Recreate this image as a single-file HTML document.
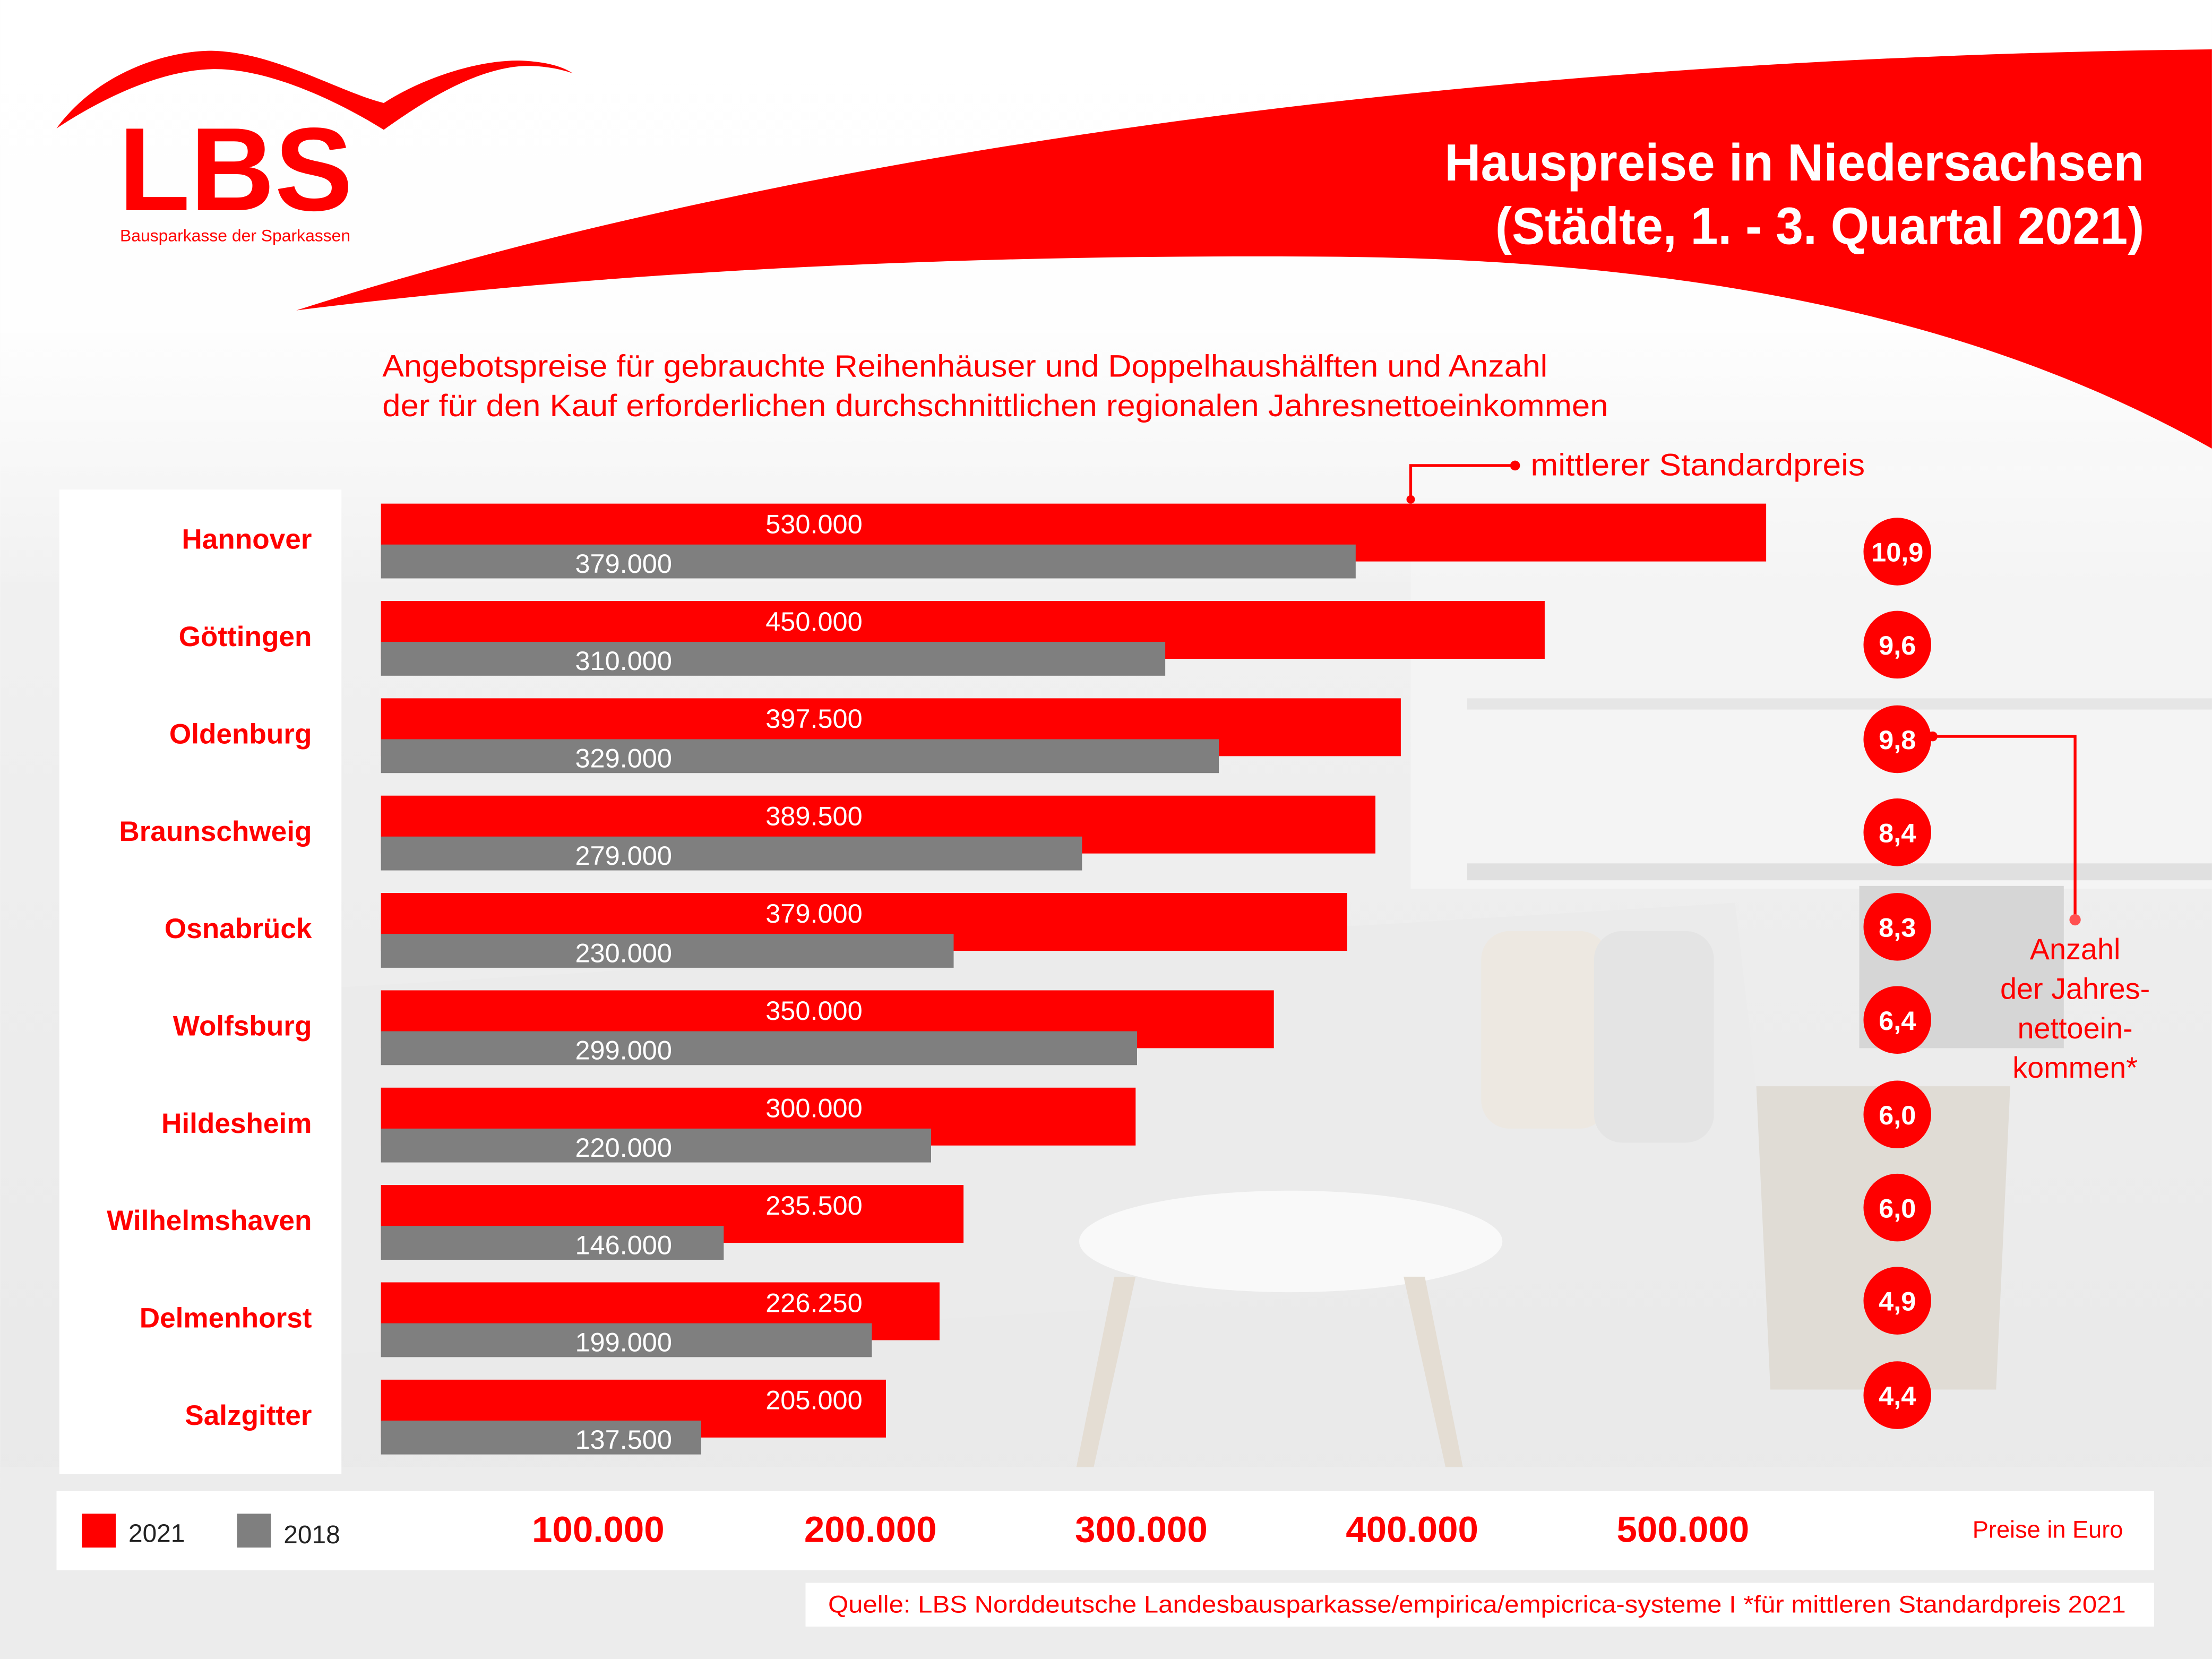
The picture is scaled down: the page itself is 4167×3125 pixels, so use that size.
<!DOCTYPE html>
<html><head><meta charset="utf-8"><style>
html,body{margin:0;padding:0;background:#fff;}
svg{display:block;}
text{font-family:"Liberation Sans",sans-serif;}
</style></head><body>
<svg width="4167" height="3125" viewBox="0 0 1568 1176" xmlns="http://www.w3.org/2000/svg">
<defs>
<linearGradient id="bg" x1="0" y1="0" x2="0" y2="1">
<stop offset="0" stop-color="#f6f6f6"/><stop offset="0.5" stop-color="#eeeeee"/><stop offset="1" stop-color="#e8e8e8"/>
</linearGradient>
<linearGradient id="fade" x1="0" y1="0" x2="0" y2="1">
<stop offset="0" stop-color="#fff" stop-opacity="1"/><stop offset="0.55" stop-color="#fff" stop-opacity="0.9"/><stop offset="1" stop-color="#fff" stop-opacity="0"/>
</linearGradient>
</defs>
<rect width="1568" height="1176" fill="url(#bg)"/>
<!-- faint background shapes -->
<rect x="1000" y="330" width="568" height="300" fill="#f4f4f4"/>
<rect x="1040" y="495" width="528" height="8" fill="#e6e6e6"/>
<rect x="1040" y="612" width="528" height="12" fill="#e0e0e0"/>
<rect x="1318" y="628" width="145" height="115" fill="#d6d6d6"/>
<path d="M240 700 L1230 640 L1260 900 L240 960 Z" fill="#ebebeb"/>
<rect x="1050" y="660" width="90" height="140" rx="20" fill="#ede8e1"/>
<rect x="1130" y="660" width="85" height="150" rx="20" fill="#e4e4e4"/>
<path d="M1245 770 L1425 770 L1415 985 L1255 985 Z" fill="#e0dcd5"/>
<ellipse cx="915" cy="880" rx="150" ry="36" fill="#f9f9f9"/>
<path d="M790 905 L760 1055 L772 1055 L805 905 Z M1010 905 L1040 1055 L1028 1055 L995 905 Z" fill="#e4ddd3"/>
<rect x="0" y="1040" width="1568" height="136" fill="#ececec"/>
<rect x="0" y="0" width="1568" height="420" fill="url(#fade)"/>
<!-- red swoosh -->
<path d="M210 220 C600 95 1100 40 1568 35 L1568 318 C1420 235 1230 185 950 182 C700 180 450 190 210 220 Z" fill="#ff0000"/>
<!-- logo -->
<path d="M40 91 C70 50 120 36 150 36 C195 37 240 65 272 73 C300 55 340 42 370 43 C390 44 400 48 406 52 C395 48 380 46 368 47 C335 50 300 72 272 92 C240 72 190 48 150 49 C115 50 75 68 40 91 Z" fill="#ff0000"/>
<text x="84" y="149" font-size="84" font-weight="bold" fill="#ff0000" textLength="166" lengthAdjust="spacingAndGlyphs">LBS</text>
<text x="85" y="171" font-size="12" fill="#ff0000">Bausparkasse der Sparkassen</text>
<!-- title -->
<text x="1520" y="128" font-size="37" font-weight="bold" fill="#fff" text-anchor="end" textLength="496" lengthAdjust="spacingAndGlyphs">Hauspreise in Niedersachsen</text>
<text x="1520" y="173" font-size="37" font-weight="bold" fill="#fff" text-anchor="end" textLength="460" lengthAdjust="spacingAndGlyphs">(Städte, 1. - 3. Quartal 2021)</text>
<!-- subtitle -->
<text x="271" y="267" font-size="22" fill="#ff0000" textLength="826" lengthAdjust="spacingAndGlyphs">Angebotspreise für gebrauchte Reihenhäuser und Doppelhaushälften und Anzahl</text>
<text x="271" y="295" font-size="22" fill="#ff0000" textLength="869" lengthAdjust="spacingAndGlyphs">der für den Kauf erforderlichen durchschnittlichen regionalen Jahresnettoeinkommen</text>
<!-- annotation -->
<polyline points="1074,330 1000,330 1000,355" fill="none" stroke="#ff0000" stroke-width="2"/>
<circle cx="1074" cy="330" r="3.5" fill="#ff0000"/>
<circle cx="1000" cy="354" r="3" fill="#ff0000"/>
<text x="1085" y="337" font-size="22" fill="#ff0000" textLength="237" lengthAdjust="spacingAndGlyphs">mittlerer Standardpreis</text>
<!-- label panel -->
<rect x="42" y="347" width="200" height="698" fill="#fff"/>
<g font-size="20" font-weight="bold" fill="#ff0000" text-anchor="end">
<text x="221" y="389">Hannover</text>
<text x="221" y="458">Göttingen</text>
<text x="221" y="527">Oldenburg</text>
<text x="221" y="596">Braunschweig</text>
<text x="221" y="665">Osnabrück</text>
<text x="221" y="734">Wolfsburg</text>
<text x="221" y="803">Hildesheim</text>
<text x="221" y="872">Wilhelmshaven</text>
<text x="221" y="941">Delmenhorst</text>
<text x="221" y="1010">Salzgitter</text>
</g>
<!-- bars -->
<g fill="#ff0000">
<rect x="270" y="357" width="982" height="41"/>
<rect x="270" y="426" width="825" height="41"/>
<rect x="270" y="495" width="723" height="41"/>
<rect x="270" y="564" width="705" height="41"/>
<rect x="270" y="633" width="685" height="41"/>
<rect x="270" y="702" width="633" height="41"/>
<rect x="270" y="771" width="535" height="41"/>
<rect x="270" y="840" width="413" height="41"/>
<rect x="270" y="909" width="396" height="41"/>
<rect x="270" y="978" width="358" height="41"/>
</g>
<g fill="#7f7f7f">
<rect x="270" y="386" width="691" height="24"/>
<rect x="270" y="455" width="556" height="24"/>
<rect x="270" y="524" width="594" height="24"/>
<rect x="270" y="593" width="497" height="24"/>
<rect x="270" y="662" width="406" height="24"/>
<rect x="270" y="731" width="536" height="24"/>
<rect x="270" y="800" width="390" height="24"/>
<rect x="270" y="869" width="243" height="24"/>
<rect x="270" y="938" width="348" height="24"/>
<rect x="270" y="1007" width="227" height="24"/>
</g>
<g font-size="19" fill="#fff" text-anchor="middle">
<text x="577" y="378">530.000</text><text x="442" y="406">379.000</text>
<text x="577" y="447">450.000</text><text x="442" y="475">310.000</text>
<text x="577" y="516">397.500</text><text x="442" y="544">329.000</text>
<text x="577" y="585">389.500</text><text x="442" y="613">279.000</text>
<text x="577" y="654">379.000</text><text x="442" y="682">230.000</text>
<text x="577" y="723">350.000</text><text x="442" y="751">299.000</text>
<text x="577" y="792">300.000</text><text x="442" y="820">220.000</text>
<text x="577" y="861">235.500</text><text x="442" y="889">146.000</text>
<text x="577" y="930">226.250</text><text x="442" y="958">199.000</text>
<text x="577" y="999">205.000</text><text x="442" y="1027">137.500</text>
</g>
<!-- circles -->
<g fill="#ff0000">
<circle cx="1345" cy="391" r="24"/><circle cx="1345" cy="457" r="24"/><circle cx="1345" cy="524" r="24"/>
<circle cx="1345" cy="590" r="24"/><circle cx="1345" cy="657" r="24"/><circle cx="1345" cy="723" r="24"/>
<circle cx="1345" cy="790" r="24"/><circle cx="1345" cy="856" r="24"/><circle cx="1345" cy="922" r="24"/>
<circle cx="1345" cy="989" r="24"/>
</g>
<g font-size="19" font-weight="bold" fill="#fff" text-anchor="middle">
<text x="1345" y="398">10,9</text><text x="1345" y="464">9,6</text><text x="1345" y="531">9,8</text>
<text x="1345" y="597">8,4</text><text x="1345" y="664">8,3</text><text x="1345" y="730">6,4</text>
<text x="1345" y="797">6,0</text><text x="1345" y="863">6,0</text><text x="1345" y="929">4,9</text>
<text x="1345" y="996">4,4</text>
</g>
<polyline points="1370,522 1471,522 1471,652" fill="none" stroke="#ff0000" stroke-width="2"/>
<circle cx="1370" cy="522" r="3.5" fill="#ff0000"/>
<circle cx="1471" cy="652" r="4" fill="#ff5050"/>
<g font-size="21" fill="#ff0000" text-anchor="middle">
<text x="1471" y="680">Anzahl</text>
<text x="1471" y="708">der Jahres-</text>
<text x="1471" y="736">nettoein-</text>
<text x="1471" y="764">kommen*</text>
</g>
<!-- bottom axis bar -->
<rect x="40" y="1057" width="1487" height="56" fill="#fff"/>
<rect x="58" y="1073" width="24" height="24" fill="#ff0000"/>
<text x="91" y="1093" font-size="18" fill="#222">2021</text>
<rect x="168" y="1073" width="24" height="24" fill="#7f7f7f"/>
<text x="201" y="1094" font-size="18" fill="#222">2018</text>
<g font-size="26" font-weight="bold" fill="#ff0000" text-anchor="middle">
<text x="424" y="1093">100.000</text>
<text x="617" y="1093">200.000</text>
<text x="809" y="1093">300.000</text>
<text x="1001" y="1093">400.000</text>
<text x="1193" y="1093">500.000</text>
</g>
<text x="1505" y="1090" font-size="17" fill="#ff0000" text-anchor="end">Preise in Euro</text>
<rect x="571" y="1122" width="956" height="31" fill="#fff"/>
<text x="587" y="1143" font-size="17" fill="#ff0000" textLength="920" lengthAdjust="spacingAndGlyphs">Quelle: LBS Norddeutsche Landesbausparkasse/empirica/empicrica-systeme   I   *für mittleren Standardpreis 2021</text>
</svg>
</body></html>
